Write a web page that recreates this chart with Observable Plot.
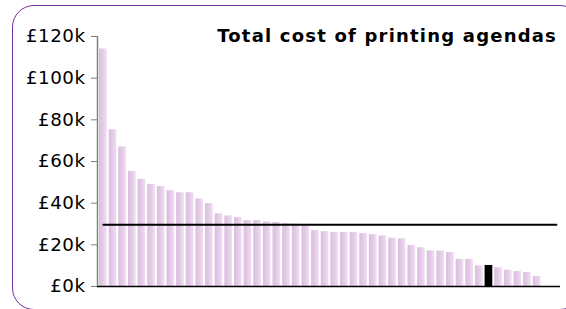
<!DOCTYPE html>
<html>
<head>
<meta charset="utf-8">
<script src="https://cdn.jsdelivr.net/npm/d3@7"></script>
<script src="https://cdn.jsdelivr.net/npm/@observablehq/plot@0.6"></script>
<style>
  html, body { margin: 0; padding: 0; background: #fff; }
  #wrap { position: relative; width: 566px; height: 309px; overflow: hidden; font-family: "DejaVu Sans", Verdana, sans-serif; }
  #frame { position: absolute; left: 12px; top: 5px; width: 570px; height: 304.5px; border: 1.5px solid #7030a0; border-radius: 22px; box-sizing: border-box; }
  #title { position: absolute; right: 9px; top: 26.5px; font-weight: bold; font-size: 18px; line-height: 18px; letter-spacing: 1.2px; color: #000; white-space: nowrap; }
  #chart { position: absolute; left: 0; top: 0; }
  #chart svg g[aria-label="y-axis tick label"] text { letter-spacing: 0.5px; }
</style>
</head>
<body>
<div id="wrap">
  <div id="frame"></div>
  <div id="chart"></div>
  <div id="title">Total cost of printing agendas</div>
</div>
<script>
// Sorted costs (in £k) of printing agendas, one bar per authority
const costs = [114, 75.2, 67, 55.2, 51.4, 49, 48, 46, 45, 45, 42, 39.8, 34.9, 33.9, 33, 31.7, 31.7, 31, 30.7, 30.2, 30, 29.8, 26.9, 26.3, 25.9, 25.9, 25.9, 25.4, 24.9, 24.3, 23.2, 22.9, 19.7, 18.6, 17.1, 17, 16.3, 13, 13, 9.9, 10.1, 9, 7.8, 7.2, 6.7, 4.9];
const highlightIndex = 40;          // the black bar
const slotCount = 48;               // category slots on the x axis
const averageCost = 29.6;           // horizontal reference line (£k)
const yTicks = [0, 20, 40, 60, 80, 100, 120];

const data = costs.map((v, i) => ({i, v, hl: i === highlightIndex}));
const slots = d3.range(slotCount);

const plot = Plot.plot({
  width: 566,
  height: 309,
  marginLeft: 97,
  marginRight: 6,
  marginTop: 36,
  marginBottom: 23,
  style: {fontFamily: "DejaVu Sans, Verdana, sans-serif", fontSize: "18px", background: "transparent", overflow: "visible"},
  x: {type: "band", domain: slots, range: [97.07, 561.7], padding: 0.2, axis: null},
  y: {domain: [0, 120], ticks: yTicks, axis: null},
  marks: [
    Plot.barY(data.filter(d => !d.hl), {x: "i", y: "v", fill: "url(#barGrad)"}),
    Plot.barY(data.filter(d => d.hl), {x: "i", y: "v", fill: "#000"}),
    Plot.ruleY([0], {stroke: "#000", strokeWidth: 1.5}),
    Plot.axisY(yTicks, {
      anchor: "left", tickSize: 6, tickPadding: 6, stroke: "#808080",
      tickFormat: d => "£" + d + "k", fill: "#000", fontSize: 18.3, textStroke: "none"
    }),
    Plot.lineY([{x: 0, y: averageCost}, {x: slotCount - 1, y: averageCost}], {x: "x", y: "y", stroke: "#000", strokeWidth: 2})
  ]
});

const ns = "http://www.w3.org/2000/svg";
const defs = document.createElementNS(ns, "defs");
defs.innerHTML = `<linearGradient id="barGrad" x1="0" x2="1" y1="0" y2="0">
  <stop offset="0" stop-color="#dcbde0"/>
  <stop offset="0.5" stop-color="#e4cbe7"/>
  <stop offset="1" stop-color="#efe0f1"/>
</linearGradient>`;
plot.insertBefore(defs, plot.firstChild);
// vertical y axis line (gray)
const axisLine = document.createElementNS(ns, "line");
axisLine.setAttribute("x1", 97.5); axisLine.setAttribute("x2", 97.5);
axisLine.setAttribute("y1", 36); axisLine.setAttribute("y2", 286);
axisLine.setAttribute("stroke", "#808080"); axisLine.setAttribute("stroke-width", 1.5);
plot.appendChild(axisLine);

document.getElementById("chart").appendChild(plot);
</script>
</body>
</html>
